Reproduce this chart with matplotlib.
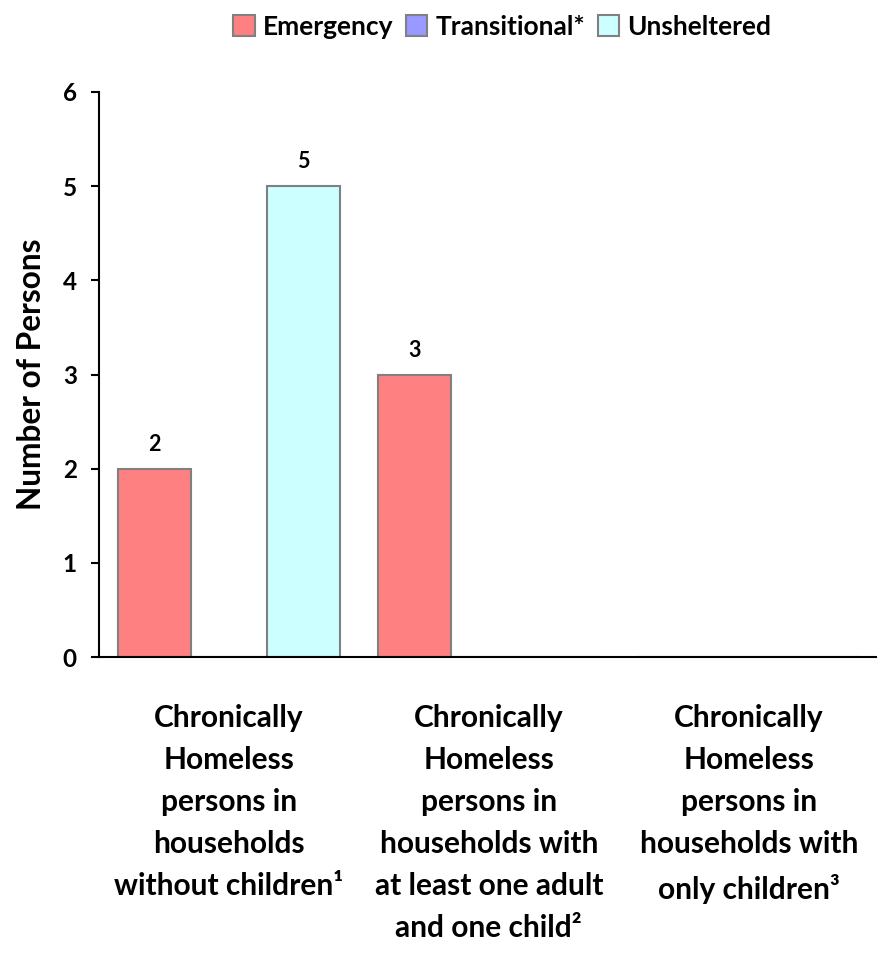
import matplotlib
matplotlib.use("Agg")
import matplotlib.pyplot as plt
import numpy as np

plt.rcParams['font.family'] = ['Lato', 'DejaVu Sans']
plt.rcParams['font.weight'] = 'bold'

categories = [
    "Chronically\nHomeless\npersons in\nhouseholds\nwithout children\u00b9",
    "Chronically\nHomeless\npersons in\nhouseholds with\nat least one adult\nand one child\u00b2",
    "Chronically\nHomeless\npersons in\nhouseholds with\nonly children\u00b3",
]
series = ["Emergency", "Transitional*", "Unsheltered"]
emergency = [2, 3, 0]
transitional = [0, 0, 0]
unsheltered = [5, 0, 0]
colors = ["#FF8080", "#9999FF", "#CCFFFF"]

fig = plt.figure(figsize=(8.78, 9.55), dpi=100)
ax = fig.add_axes([0.1128, 0.312, 0.888, 0.5917])

x = np.arange(len(categories))
w = 0.2865
for i, (name, vals) in enumerate(zip(series, [emergency, transitional, unsheltered])):
    bars = ax.bar(x + (i - 1) * w, vals, w * 0.99, color=colors[i], edgecolor="#808080",
                  linewidth=1.5, label=name)
    ax.bar_label(bars, labels=[str(v) if v else "" for v in vals], padding=10,
                 fontsize=15.5, fontweight="bold")

ax.set_xlim(-0.5, 2.5)
ax.set_ylim(0, 6)
ax.set_yticks(range(7))
ax.set_xticks(x)
ax.set_xticklabels(categories, fontsize=21.5, fontweight="bold", linespacing=1.61)
ax.tick_params(axis="x", length=0, pad=34)
ax.tick_params(axis="y", length=6, width=1.5, labelsize=17.5, pad=10)
for lab in ax.get_yticklabels():
    lab.set_fontweight("bold")
ax.spines["top"].set_visible(False)
ax.spines["right"].set_visible(False)
ax.spines["left"].set_linewidth(1.5)
ax.spines["bottom"].set_linewidth(1.5)
ax.set_ylabel("Number of Persons", fontsize=22.8, fontweight="bold", labelpad=12)

fig.legend(loc="center", bbox_to_anchor=(0.572, 0.972), ncol=3, frameon=False,
           prop={"size": 19, "weight": "bold"}, handlelength=0.8, handleheight=0.8,
           handletextpad=0.3, columnspacing=0.5)

fig.savefig("out.png", dpi=100)
